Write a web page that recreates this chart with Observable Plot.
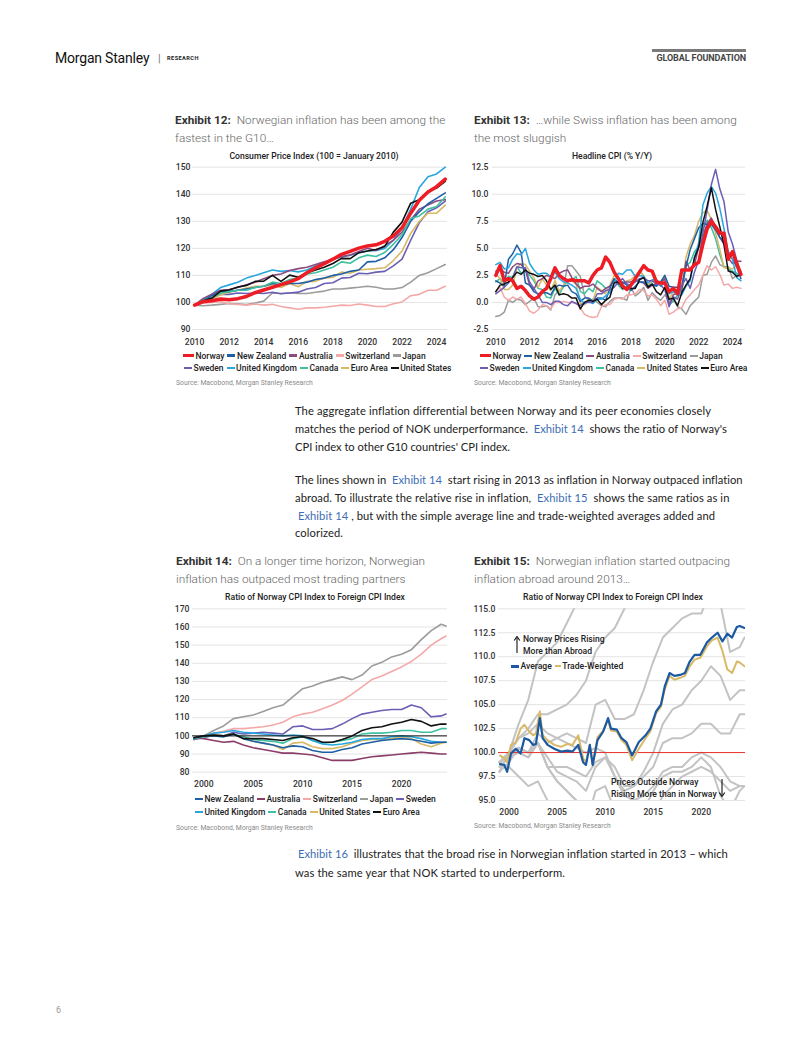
<!DOCTYPE html>
<html><head><meta charset="utf-8">
<script src="https://cdn.jsdelivr.net/npm/d3@7"></script>
<script src="https://cdn.jsdelivr.net/npm/@observablehq/plot@0.6"></script>
<style>
html,body{margin:0;padding:0;background:#fff;}
#page{position:relative;width:802px;height:1037px;overflow:hidden;font-family:Roboto,sans-serif;background:#fff;}
.t{position:absolute;white-space:pre;}
.chart{position:absolute;}
.chart svg{overflow:visible;background:transparent;}
.lg{position:absolute;display:flex;align-items:center;white-space:pre;font-family:Roboto,sans-serif;font-weight:500;color:#222;}
.lg .it{display:flex;align-items:center;margin-right:3px;}
.lg .sw{display:inline-block;margin-right:1.5px;}
.lk{color:#3d6db5;}
</style></head><body><div id="page"></div>
<script>
// ---------------- DATA ----------------
// Exhibit 12: CPI index (100 = Jan 2010), semi-annual readings
const cpiDates = [2010,2010.5,2011,2011.5,2012,2012.5,2013,2013.5,2014,2014.5,2015,2015.5,2016,2016.5,2017,2017.5,2018,2018.5,2019,2019.5,2020,2020.5,2021,2021.5,2022,2022.5,2023,2023.5,2024,2024.5];
const cpiNorway = [99.0,100.3,100.6,101.3,101.0,101.4,102.2,103.6,104.6,105.6,106.6,107.6,108.8,111.0,112.8,114.3,116.0,117.8,118.9,120.1,120.9,121.3,122.6,124.6,127.6,133.0,137.8,140.8,142.8,145.6];
const cpiNewZealand = [99.0,100.5,102.5,104.0,104.0,104.5,105.0,105.5,106.0,107.0,106.5,107.0,107.0,107.5,108.5,109.0,110.0,110.5,111.5,112.0,115.0,115.2,116.5,119.5,124.0,130.0,133.5,136.5,138.5,140.5];
const cpiAustralia = [99.0,101.5,103.0,104.5,104.8,105.5,106.5,107.5,108.8,110.0,110.5,111.8,112.5,113.0,114.0,115.0,116.0,117.0,117.5,118.8,120.0,119.2,121.0,123.0,126.0,130.5,134.5,136.0,137.5,138.0];
const cpiSwitzerland = [99.0,99.8,100.0,100.3,99.5,99.3,99.0,99.4,99.0,99.3,98.5,98.0,97.5,98.0,98.0,98.2,98.6,99.0,98.9,99.4,99.0,98.5,98.5,99.5,100.2,102.5,103.0,104.5,104.5,106.0];
const cpiJapan = [99.0,98.8,99.0,99.3,99.6,99.5,99.2,99.8,100.5,103.5,103.3,103.6,103.3,103.3,103.8,104.2,105.0,105.0,105.3,105.6,106.0,105.6,105.0,105.0,105.5,107.5,110.0,111.0,112.5,114.0];
const cpiSweden = [99.0,100.5,101.5,103.0,103.0,103.5,103.3,103.5,103.3,103.8,103.2,103.5,103.8,105.0,105.5,107.0,107.3,109.0,109.2,110.8,110.6,111.2,111.5,113.5,116.0,123.0,129.5,133.5,135.0,137.5];
const cpiUK = [99.0,101.0,103.0,105.5,106.5,107.5,109.0,110.0,111.0,112.0,111.5,111.8,111.3,112.0,113.5,114.8,116.0,116.8,117.5,118.3,119.0,119.2,120.0,123.0,127.5,134.5,142.5,146.5,147.5,150.0];
const cpiCanada = [99.0,100.8,101.5,103.5,104.0,104.5,104.5,105.5,106.0,107.5,107.0,108.5,109.0,110.5,111.0,112.0,113.0,115.0,114.5,116.5,117.5,117.0,118.5,121.5,125.0,131.0,132.0,134.5,135.5,139.0];
const cpiEuroArea = [99.0,100.2,101.2,102.8,103.8,104.5,105.3,106.0,106.0,106.5,105.5,107.0,105.8,107.8,107.8,109.0,109.3,111.2,110.8,112.0,112.3,112.5,112.8,115.5,119.0,125.5,130.0,133.0,133.0,136.0];
const cpiUS = [99.0,100.6,101.6,104.2,104.6,105.7,106.3,107.8,107.9,110.0,107.8,110.1,109.3,111.0,112.0,113.0,114.4,116.3,116.2,118.4,119.0,119.6,120.7,126.0,129.7,136.7,138.0,141.1,142.3,144.8];
const cpiTicksY = [90,100,110,120,130,140,150];
const cpiTicksX = [2010,2012,2014,2016,2018,2020,2022,2024];

// Exhibit 13: headline CPI % y/y, quarterly readings
const yoyDates = [2010,2010.25,2010.5,2010.75,2011,2011.25,2011.5,2011.75,2012,2012.25,2012.5,2012.75,2013,2013.25,2013.5,2013.75,2014,2014.25,2014.5,2014.75,2015,2015.25,2015.5,2015.75,2016,2016.25,2016.5,2016.75,2017,2017.25,2017.5,2017.75,2018,2018.25,2018.5,2018.75,2019,2019.25,2019.5,2019.75,2020,2020.25,2020.5,2020.75,2021,2021.25,2021.5,2021.75,2022,2022.25,2022.5,2022.75,2023,2023.25,2023.5,2023.75,2024,2024.25,2024.5];
const yoyNorway = [2.5,3.4,2.0,2.2, 2.0,1.3,1.5,1.1, 0.6,0.3,0.5,1.0, 1.3,2.2,3.2,2.5, 2.2,2.0,2.1,2.0, 2.0,2.0,1.8,2.5, 3.0,3.2,4.2,3.7, 2.8,2.2,1.5,1.2, 1.6,2.2,2.8,3.4, 3.0,2.9,1.9,1.8, 1.8,1.0,1.3,0.8, 3.0,3.0,3.0,3.5, 3.7,5.4,6.8,7.5, 7.0,6.4,6.4,4.0, 4.7,3.6,2.6];
const yoyNewZealand = [2.0,1.8,1.5,4.0, 4.5,5.3,4.6,1.8, 1.6,1.0,0.8,0.9, 0.9,0.7,1.4,1.6, 1.5,1.6,1.0,0.8, 0.1,0.4,0.4,0.1, 0.4,0.4,0.2,1.3, 2.2,1.7,1.9,1.6, 1.1,1.5,1.9,1.9, 1.5,1.7,1.5,1.9, 2.5,1.5,1.4,1.4, 1.5,3.3,4.9,5.9, 6.9,7.3,7.2,7.2, 6.7,6.0,5.6,4.7, 4.0,3.3,2.2];
const yoyAustralia = [2.9,3.1,2.8,2.7, 3.3,3.6,3.5,3.0, 1.6,1.2,2.0,2.2, 2.5,2.4,2.2,2.7, 2.9,3.0,2.3,1.7, 1.3,1.5,1.5,1.7, 1.3,1.0,1.3,1.5, 2.1,1.9,1.8,1.9, 1.9,2.1,1.9,1.8, 1.3,1.6,1.7,1.8, 2.2,-0.3,0.7,0.9, 1.1,3.8,3.0,3.5, 5.1,6.1,7.3,7.8, 7.0,6.0,5.4,4.1, 3.6,3.8,3.8];
const yoySwitzerland = [1.0,1.4,0.5,0.2, 0.5,0.3,0.5,-0.1, -0.8,-1.0,-0.7,-0.2, -0.3,-0.6,0.0,0.0, 0.1,0.0,0.0,-0.1, -0.5,-1.1,-1.3,-1.4, -1.3,-0.4,-0.2,-0.2, 0.3,0.4,0.3,0.7, 0.7,0.8,1.2,1.1, 0.6,0.7,0.3,-0.3, 0.2,-1.1,-0.9,-0.6, -0.5,0.3,0.7,1.2, 1.6,2.5,3.4,3.0, 3.3,2.6,1.6,1.7, 1.3,1.4,1.3];
const yoyJapan = [-1.3,-1.2,-0.9,0.2, 0.0,0.3,0.2,-0.2, 0.1,0.4,-0.4,-0.4, -0.3,-0.7,0.7,1.1, 1.4,3.4,3.4,2.9, 2.4,0.6,0.2,0.3, 0.0,-0.3,-0.4,0.1, 0.4,0.4,0.4,0.2, 1.4,0.6,0.9,1.4, 0.2,0.9,0.5,0.2, 0.7,0.1,0.3,-0.4, -0.6,-1.1,-0.3,0.1, 0.5,2.5,2.6,3.7, 4.3,3.5,3.3,3.3, 2.2,2.5,2.8];
const yoySweden = [0.8,1.1,1.4,1.8, 2.3,3.3,3.2,3.2, 1.9,1.3,0.7,0.0, 0.0,-0.2,0.1,0.1, -0.2,-0.3,0.1,-0.1, -0.3,0.0,0.0,0.0, 0.8,0.8,1.1,1.2, 1.4,1.9,2.2,1.7, 1.6,1.9,2.2,2.3, 2.0,2.0,1.7,1.6, 1.2,-0.4,0.5,0.3, 1.6,2.2,1.3,2.8, 3.9,6.4,8.5,10.9, 12.3,10.5,9.3,6.5, 5.4,3.9,2.6];
const yoyUK = [3.5,3.7,3.1,3.2, 4.0,4.5,4.4,5.0, 3.6,3.0,2.6,2.7, 2.7,2.4,2.8,2.2, 1.9,1.8,1.6,1.3, 0.3,-0.1,0.1,-0.1, 0.3,0.3,0.6,0.9, 1.8,2.7,2.6,3.0, 3.0,2.4,2.5,2.4, 1.8,2.1,2.1,1.5, 1.8,0.8,1.0,0.7, 0.7,1.5,2.0,4.2, 5.5,9.0,10.1,10.7, 10.1,8.7,6.8,4.6, 4.0,2.3,2.0];
const yoyCanada = [1.9,2.2,1.8,2.4, 2.3,3.3,2.7,2.9, 2.5,2.0,1.3,1.2, 0.5,0.4,1.3,0.7, 1.5,2.0,2.1,2.4, 1.0,0.8,1.3,1.0, 2.0,1.7,1.3,1.5, 2.1,1.6,1.2,1.4, 1.7,2.2,3.0,2.4, 1.4,2.0,2.0,1.9, 2.4,-0.2,0.1,0.7, 1.0,3.4,3.7,4.7, 5.1,6.8,7.6,6.9, 5.9,4.4,3.3,3.1, 2.9,2.7,2.5];
const yoyUS = [2.6,2.2,1.2,1.2, 1.6,3.2,3.6,3.5, 2.9,2.3,1.4,2.2, 1.6,1.1,2.0,1.0, 1.6,2.0,2.0,1.7, -0.1,-0.2,0.2,0.2, 1.4,1.1,0.8,1.6, 2.5,2.2,1.7,2.0, 2.1,2.5,2.9,2.5, 1.6,2.0,1.8,1.8, 2.5,0.3,1.0,1.2, 1.4,4.2,5.4,6.2, 7.5,8.3,8.5,7.7, 6.4,4.9,3.2,3.2, 3.1,3.4,2.9];
const yoyEuroArea = [1.0,1.6,1.7,1.9, 2.3,2.8,2.6,3.0, 2.7,2.6,2.4,2.5, 2.0,1.2,1.6,0.7, 0.8,0.7,0.4,0.4, -0.6,0.0,0.2,0.1, 0.3,-0.2,0.2,0.5, 1.8,1.9,1.3,1.4, 1.3,1.3,2.1,2.3, 1.4,1.7,1.0,0.7, 1.4,0.3,0.4,-0.3, 0.9,1.6,2.2,4.1, 5.1,7.4,8.9,10.6, 8.6,7.0,5.3,2.9, 2.8,2.4,2.6];
const yoyTicksY = [-2.5,0,2.5,5,7.5,10,12.5];
const yoyTicksX = [2010,2012,2014,2016,2018,2020,2022,2024];

// Exhibit 14 / 15: ratio of Norway CPI to foreign CPI, annual readings
const ratioDates = [1999,2000,2001,2002,2003,2004,2005,2006,2007,2008,2009,2010,2011,2012,2013,2014,2015,2016,2017,2018,2019,2020,2021,2022,2023,2024,2024.5];
const ratioNewZealand = [99,100,100,99.5,101,98.5,97,96,95,93.5,94.5,94,92,91,91,92.5,93.5,95.5,96.5,97.5,98,98.5,98,97,96,96.5,96.5];
const ratioAustralia = [99,98.5,97.5,96.5,97,95,93.5,92.5,91.5,90.5,90.5,90,89.5,88,86.5,86.5,86.5,87.5,88.5,89,89.5,90,90.5,91,90.5,90,90];
const ratioSwitzerland = [98,100,101.5,102.5,104,104,104.5,105,106,107.5,110.5,112,113,115,117,119.5,123,127,131,133,135.5,138,141,145,150,153.5,155];
const ratioJapan = [98,100,103,105.5,109.5,110.5,111.5,113.5,115.5,117,121.5,126,127.5,129.5,131,132.5,131,133.5,138.5,140.5,143.5,145,147.5,153,158,161.5,160.5];
const ratioSweden = [98,99,100.5,100,102,101,101.5,102,101.5,101,105,105.5,103.5,103.5,104,106.5,109.5,112,113,114,114.5,114.5,117,115.5,110.5,111,112];
const ratioUK = [99,100,101.5,102,103,102,101.5,101,100.5,100,100.5,100,97.5,95.5,95,95.5,96.5,98,98.5,98.5,99.5,100,99.5,98.5,97,96.5,96.5];
const ratioCanada = [98.5,99.5,100,99.5,101,99.5,98,97.5,97,96,98.5,99.5,97.5,96,96.5,97.5,98.5,101,101.5,101.5,102,103,103,102,102,104,104];
const ratioUS = [99,99.5,100.5,100,101,98.5,97,96,95,92.5,96,96.5,94,93,93,94,96,97.5,98,98,98.5,99.5,98.5,95.5,94,96,96.5];
const ratioEuroArea = [99,100,100.5,100,101,98.5,98.5,98.5,98,97.5,99,99.5,98.5,96.5,96.5,98,100,103,104.5,105,106.5,107.5,109,108,105.5,106.5,106.5];
const ratioTicksY = [80,90,100,110,120,130,140,150,160,170];
const ratioTicksX = [2000,2005,2010,2015,2020];

// Exhibit 15: simple average and trade-weighted average ratios
const avgDates = [1999.05,1999.5,1999.8,2000.2,2000.7,2001.2,2001.6,2002.1,2002.5,2002.8,2003.2,2003.5,2004.0,2004.7,2005.4,2006.1,2006.6,2007.2,2007.7,2008.0,2008.4,2008.7,2009.2,2009.8,2010.3,2010.6,2011.2,2011.7,2012.2,2012.8,2013.5,2014.2,2014.7,2015.3,2015.8,2016.2,2016.7,2017.2,2017.8,2018.3,2018.8,2019.3,2019.9,2020.6,2021.1,2021.7,2022.2,2022.7,2023.2,2023.7,2024.0,2024.5];
const ratioAverage = [98.8,98.7,98.0,99.9,100.4,99.9,101.5,101.3,100.8,100.9,103.6,101.5,100.8,100.4,100.1,100.2,100.1,100.8,99.0,98.7,100.8,98.7,101.3,102.2,103.6,102.5,102.4,101.5,101.1,99.7,101.1,101.8,102.5,104.3,105.0,106.9,108.3,108.0,108.1,108.3,109.5,110.2,110.2,111.5,112.0,112.5,111.6,112.4,112.0,113.1,113.2,113.0];
const ratioTradeWeighted = [99.7,99.4,99.0,100.8,101.1,102.5,102.9,102.2,101.8,102.0,104.3,101.8,101.3,100.8,100.6,100.9,100.8,101.8,99.4,99.0,100.8,98.8,101.6,102.3,103.4,102.3,102.2,101.3,100.8,99.2,100.4,101.5,102.2,104.1,104.8,106.6,108.0,107.6,107.8,108.0,109.0,109.7,109.9,111.1,111.7,112.0,110.6,108.7,108.3,109.5,109.4,109.0];
const avgTicksY = [95,97.5,100,102.5,105,107.5,110,112.5,115];

// legend labels
const legend12Row1 = ["Norway","New Zealand","Australia","Switzerland","Japan"];
const legend12Row2 = ["Sweden","United Kingdom","Canada","Euro Area","United States"];
const legend13Row1 = ["Norway","New Zealand","Australia","Switzerland","Japan"];
const legend13Row2 = ["Sweden","United Kingdom","Canada","United States","Euro Area"];
const legend14Row1 = ["New Zealand","Australia","Switzerland","Japan","Sweden"];
const legend14Row2 = ["United Kingdom","Canada","United States","Euro Area"];

// ---------------- STYLE ----------------
const COL = {
  "Norway":"#ee1c24","New Zealand":"#1f5fa6","Australia":"#8b4a80","Switzerland":"#f4a9a8","Japan":"#9b9b9b",
  "Sweden":"#6a5fb4","United Kingdom":"#27a6df","Canada":"#3fc0a0","Gold":"#d9b866","Black":"#111111"
};
const col12 = {...COL, "Euro Area":COL.Gold, "United States":COL.Black};
const col13 = {...COL, "Euro Area":COL.Black, "United States":COL.Gold};
const col14 = {...COL, "Australia":"#8a3d68", "Euro Area":COL.Black, "United States":COL.Gold};

const page = document.getElementById("page");
const rows = (dates, vals) => dates.map((d, i) => ({date: d, value: vals[i]}));
const line = (dates, vals, stroke, w, clip=false) =>
  Plot.line(rows(dates, vals), {x: "date", y: "value", stroke, strokeWidth: w, clip, strokeLinejoin: "round"});

function chart({L, T, W, H, px0, px1, py0, py1, xd, yd, xt, yt, yfmt, padY, padX, layers}) {
  const svg = Plot.plot({
    width: W, height: H,
    marginLeft: px0 - L, marginRight: L + W - px1, marginTop: py0 - T, marginBottom: T + H - py1,
    x: {domain: xd, label: null}, y: {domain: yd, label: null},
    style: {fontFamily: "Roboto, sans-serif", fontSize: "8.6px", fontWeight: 500, color: "#333", background: "transparent", overflow: "visible"},
    marks: [
      Plot.gridY(yt, {stroke: "#e4e4e4", strokeOpacity: 1, strokeWidth: 1}),
      ...layers,
      Plot.axisY(yt, {tickSize: 0, tickPadding: padY, tickFormat: yfmt, label: null}),
      Plot.axisX(xt, {tickSize: 0, tickPadding: padX, tickFormat: d => String(d), label: null})
    ]
  });
  const div = document.createElement("div");
  div.className = "chart";
  div.style.left = L + "px"; div.style.top = T + "px"; div.style.width = W + "px";
  div.appendChild(svg);
  page.appendChild(div);
}

function txt(html, x, cy, o = {}) {
  const d = document.createElement("div");
  d.className = "t";
  const size = o.size || 11, lh = o.lh || Math.round(size * 1.4);
  d.style.left = x + "px"; d.style.top = (cy - lh / 2) + "px";
  d.style.fontSize = size + "px"; d.style.lineHeight = lh + "px";
  d.style.fontFamily = o.family || "Roboto, sans-serif";
  d.style.fontWeight = o.weight || 400;
  d.style.color = o.color || "#222";
  if (o.ls) d.style.letterSpacing = o.ls + "px";
  if (o.anchor === "middle") d.style.transform = "translateX(-50%)";
  if (o.anchor === "end") d.style.transform = "translateX(-100%)";
  d.innerHTML = html;
  page.appendChild(d);
  return d;
}

function legend(labels, colors, x, cy, size = 8.5, special = {}) {
  const d = document.createElement("div");
  d.className = "lg";
  d.style.left = x + "px"; d.style.top = (cy - 6) + "px"; d.style.height = "12px"; d.style.fontSize = size + "px";
  for (const lab of labels) {
    const s = document.createElement("span");
    s.className = "it";
    const sp = special[lab] || {};
    s.innerHTML = `<span class="sw" style="width:${sp.w || 8}px;height:${sp.h || 2.2}px;background:${colors[lab]}"></span>${lab}`;
    d.appendChild(s);
  }
  page.appendChild(d);
}

function arrow(x, y0, y1, up) {
  const d = document.createElement("div");
  d.style.position = "absolute";
  d.style.left = (x - 4) + "px"; d.style.top = y0 + "px";
  const h = y1 - y0;
  d.innerHTML = up
    ? `<svg width="8" height="${h}"><line x1="4" y1="2" x2="4" y2="${h}" stroke="#111" stroke-width="1.1"/><path d="M1.2,4.5 L4,0.5 L6.8,4.5" fill="none" stroke="#111" stroke-width="1.1"/></svg>`
    : `<svg width="8" height="${h}"><line x1="4" y1="0" x2="4" y2="${h - 2}" stroke="#111" stroke-width="1.1"/><path d="M1.2,${h - 4.5} L4,${h - 0.5} L6.8,${h - 4.5}" fill="none" stroke="#111" stroke-width="1.1"/></svg>`;
  page.appendChild(d);
}

// ---------------- HEADER ----------------
txt("Morgan Stanley", 55, 58, {size: 14, color: "#111", ls: -0.2});
txt("|", 158, 58, {size: 11, color: "#777"});
txt("RESEARCH", 167, 58, {size: 5.6, weight: 700, color: "#222", ls: 0.45});
(() => { const b = document.createElement("div"); b.style.cssText = "position:absolute;left:652px;top:49px;width:94px;height:2.5px;background:#7a7a7a"; page.appendChild(b); })();
txt("GLOBAL FOUNDATION", 746, 58.5, {size: 9, weight: 700, color: "#444", anchor: "end", ls: -0.1});

// ---------------- EXHIBIT 12 ----------------
const tB = s => `<span style="font-weight:700;color:#333">${s}</span>`;
const tL = s => `<span style="font-weight:300;color:#666">${s}</span>`;
const TS = 11.8;
txt(tB("Exhibit 12:") + tL("  Norwegian inflation has been among the"), 175, 120, {size: TS, lh: 16});
txt(tL("fastest in the G10\u2026"), 175, 138, {size: TS, lh: 16});
txt("Consumer Price Index (100 = January 2010)", 314, 156, {size: 8.6, weight: 500, color: "#222", anchor: "middle"});
chart({
  L: 170, T: 160, W: 285, H: 190, px0: 192, px1: 447, py0: 166.7, py1: 329,
  xd: [2009.88, 2024.63], yd: [90, 150], xt: cpiTicksX, yt: cpiTicksY, yfmt: d => String(d), padY: 2, padX: 9,
  layers: [
    line(cpiDates, cpiUK, col12["United Kingdom"], 1.6),
    line(cpiDates, cpiJapan, col12["Japan"], 1.6),
    line(cpiDates, cpiSwitzerland, col12["Switzerland"], 1.6),
    line(cpiDates, cpiSweden, col12["Sweden"], 1.6),
    line(cpiDates, cpiEuroArea, col12["Euro Area"], 1.6),
    line(cpiDates, cpiAustralia, col12["Australia"], 1.6),
    line(cpiDates, cpiNewZealand, col12["New Zealand"], 1.6),
    line(cpiDates, cpiCanada, col12["Canada"], 1.6),
    line(cpiDates, cpiUS, col12["United States"], 1.6),
    line(cpiDates, cpiNorway, col12["Norway"], 3.5)
  ]
});
legend(legend12Row1, col12, 183, 355.5, 8.5, {"Norway": {w: 11, h: 3.5}});
legend(legend12Row2, col12, 184, 368);
txt("Source: Macobond, Morgan Stanley Research", 176, 383, {size: 6.8, color: "#8a8a8a"});

// ---------------- EXHIBIT 13 ----------------
txt(tB("Exhibit 13:") + tL("  \u2026while Swiss inflation has been among"), 474, 120, {size: TS, lh: 16});
txt(tL("the most sluggish"), 474, 138, {size: TS, lh: 16});
txt("Headline CPI (% Y/Y)", 612, 156, {size: 8.6, weight: 500, color: "#222", anchor: "middle"});
chart({
  L: 465, T: 160, W: 290, H: 190, px0: 492, px1: 745, py0: 166.7, py1: 329,
  xd: [2009.805, 2024.77], yd: [-2.5, 12.5], xt: yoyTicksX, yt: yoyTicksY, yfmt: d => d.toFixed(1), padY: 4, padX: 9,
  layers: [
    line(yoyDates, yoyJapan, col13["Japan"], 1.5),
    line(yoyDates, yoySwitzerland, col13["Switzerland"], 1.5),
    line(yoyDates, yoyCanada, col13["Canada"], 1.5),
    line(yoyDates, yoyUS, col13["United States"], 1.5),
    line(yoyDates, yoyAustralia, col13["Australia"], 1.5),
    line(yoyDates, yoyNewZealand, col13["New Zealand"], 1.5),
    line(yoyDates, yoyUK, col13["United Kingdom"], 1.5),
    line(yoyDates, yoySweden, col13["Sweden"], 1.5),
    line(yoyDates, yoyEuroArea, col13["Euro Area"], 1.5),
    line(yoyDates, yoyNorway, col13["Norway"], 3.5)
  ]
});
legend(legend13Row1, col13, 480, 355.7, 8.5, {"Norway": {w: 11, h: 3.5}});
legend(legend13Row2, col13, 480, 368);
txt("Source: Macobond, Morgan Stanley Research", 474, 383, {size: 6.8, color: "#8a8a8a"});

// ---------------- BODY TEXT ----------------
const bodyLines = [];
function body(html, x, cy, target) {
  const el = txt(html, x, cy, {size: 11.2, lh: 16, family: "Lato, 'Noto Sans', sans-serif", color: "#222"});
  bodyLines.push([el, target]);
}
const lk = s => `<span class="lk">${s}</span>`;
body("The aggregate inflation differential between Norway and its peer economies closely", 295, 410.7, 416);
body("matches the period of NOK underperformance.  " + lk("Exhibit 14") + "  shows the ratio of Norway's", 295, 429, 432);
body("CPI index to other G10 countries' CPI index.", 295, 446.7, 215);
body("The lines shown in  " + lk("Exhibit 14") + "  start rising in 2013 as inflation in Norway outpaced inflation", 295, 480, 448);
body("abroad. To illustrate the relative rise in inflation,  " + lk("Exhibit 15") + "  shows the same ratios as in", 295, 497.7, 435);
body(" " + lk("Exhibit 14") + " , but with the simple average line and trade-weighted averages added and", 295, 515.7, 420);
body("colorized.", 295, 533.3, 48);
body(" " + lk("Exhibit 16") + "  illustrates that the broad rise in Norwegian inflation started in 2013 \u2013 which", 295, 854.3, 433);
body("was the same year that NOK started to underperform.", 295, 873.3, 270);
for (const [el, target] of bodyLines) {
  const w = el.getBoundingClientRect().width;
  const n = el.textContent.length;
  const ls = (target - w) / Math.max(1, n - 1);
  el.style.letterSpacing = Math.max(-0.6, Math.min(0.6, ls)) + "px";
}

// ---------------- EXHIBIT 14 ----------------
txt(tB("Exhibit 14:") + tL("  On a longer time horizon, Norwegian"), 176, 561, {size: TS, lh: 16});
txt(tL("inflation has outpaced most trading partners"), 176, 579, {size: TS, lh: 16});
txt("Ratio of Norway CPI Index to Foreign CPI Index", 315, 597, {size: 8.6, weight: 500, color: "#222", anchor: "middle"});
chart({
  L: 170, T: 602, W: 285, H: 190, px0: 192, px1: 447, py0: 608.3, py1: 771.7,
  xd: [1998.857, 2024.65], yd: [80, 170], xt: ratioTicksX, yt: ratioTicksY, yfmt: d => String(d), padY: 3, padX: 9,
  layers: [
    line(ratioDates, ratioJapan, col14["Japan"], 1.6),
    line(ratioDates, ratioSwitzerland, col14["Switzerland"], 1.6),
    line(ratioDates, ratioSweden, col14["Sweden"], 1.6),
    line(ratioDates, ratioAustralia, col14["Australia"], 1.6),
    line(ratioDates, ratioUS, col14["United States"], 1.6),
    line(ratioDates, ratioCanada, col14["Canada"], 1.6),
    line(ratioDates, ratioUK, col14["United Kingdom"], 1.6),
    line(ratioDates, ratioNewZealand, col14["New Zealand"], 1.6),
    line(ratioDates, ratioEuroArea, col14["Euro Area"], 1.6),
    Plot.ruleY([100], {stroke: "#111", strokeWidth: 1})
  ]
});
legend(legend14Row1, col14, 195, 799);
legend(legend14Row2, col14, 195, 812);
txt("Source: Macobond, Morgan Stanley Research", 176, 828, {size: 6.8, color: "#8a8a8a"});

// ---------------- EXHIBIT 15 ----------------
txt(tB("Exhibit 15:") + tL("  Norwegian inflation started outpacing"), 474, 561, {size: TS, lh: 16});
txt(tL("inflation abroad around 2013\u2026"), 474, 579, {size: TS, lh: 16});
txt("Ratio of Norway CPI Index to Foreign CPI Index", 613, 597, {size: 8.6, weight: 500, color: "#222", anchor: "middle"});
const grayC = "#c3c3c3";
chart({
  L: 465, T: 602, W: 290, H: 218, px0: 498, px1: 745, py0: 608.3, py1: 800,
  xd: [1998.9, 2024.6], yd: [95, 115], xt: ratioTicksX, yt: avgTicksY, yfmt: d => d.toFixed(1), padY: 3, padX: 8.5,
  layers: [
    ...[ratioJapan, ratioSwitzerland, ratioSweden, ratioAustralia, ratioUS, ratioCanada, ratioUK, ratioNewZealand, ratioEuroArea]
      .map(v => line(ratioDates, v, grayC, 2, true)),
    Plot.ruleY([100], {stroke: "#e8302f", strokeWidth: 1}),
    line(avgDates, ratioTradeWeighted, COL.Gold, 2, true),
    line(avgDates, ratioAverage, "#1b5aa2", 2.2, true)
  ]
});
arrow(517, 636, 653, true);
txt("Norway Prices Rising", 523, 639, {size: 8.6, weight: 500, color: "#222"});
txt("More than Abroad", 523, 650.5, {size: 8.6, weight: 500, color: "#222"});
legend(["Average", "Trade-Weighted"], {"Average": "#1b5aa2", "Trade-Weighted": COL.Gold}, 511, 666, 8.6, {"Average": {w: 8, h: 3}, "Trade-Weighted": {w: 6, h: 2.5}});
txt("Prices Outside Norway", 611, 782, {size: 8.6, weight: 500, color: "#222"});
txt("Rising More than in Norway", 611, 793.5, {size: 8.6, weight: 500, color: "#222"});
arrow(722, 779, 797, false);
txt("Source: Macobond, Morgan Stanley Research", 474, 826, {size: 6.8, color: "#8a8a8a"});

// ---------------- FOOTER ----------------
txt("6", 56, 1010, {size: 9, color: "#9a9a9a"});
</script></body></html>
